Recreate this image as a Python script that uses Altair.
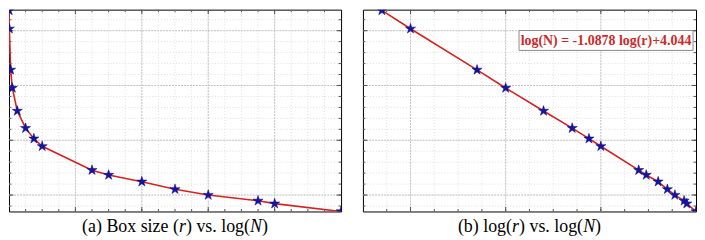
import altair as alt
import numpy as np
import pandas as pd

# ---- data ----
r_vals = [0.005, 0.01, 0.05, 0.1, 0.25, 0.5, 0.75, 1, 2.5, 3, 4, 5, 6, 7.5, 8, 10]
logN_vals = [6.37, 6.035, 5.285, 4.954, 4.535, 4.221, 4.029, 3.890,
             3.454, 3.366, 3.244, 3.105, 3.0, 2.895, 2.843, 2.70]
fit_label = "log(N) = -1.0878 log(r)+4.044"
caption_a = [("(a) Box size (", False), ("r", True), (") vs. log(", False), ("N", True), (")", False)]
caption_b = [("(b) log(", False), ("r", True), (") vs. log(", False), ("N", True), (")", False)]

df = pd.DataFrame({"r": r_vals, "logN": logN_vals})
df["logr"] = np.log10(df["r"])

# ---- layout ----
W1, W2, H = 334, 335, 203
CAP_SIZE = 18
STAR = ("M0,-1 L0.2245,-0.309 L0.951,-0.309 L0.3633,0.118 L0.588,0.809 "
        "L0,0.382 L-0.588,0.809 L-0.3633,0.118 L-0.951,-0.309 L-0.2245,-0.309 Z")

# Times-compatible advance widths (per 1000 em) for caption placement
TW = {"(": 333, ")": 333, "a": 444, "b": 500, " ": 250, "B": 667, "o": 500, "x": 500,
      "s": 389, "i": 278, "z": 444, "e": 444, "v": 500, ".": 250, "l": 278, "g": 500,
      "r": 389, "N": 667}

ys = alt.Scale(domain=[2.70, 6.384], nice=False, zero=False)
xa = alt.Scale(domain=[0, 10], nice=False, zero=False)
xb = alt.Scale(domain=[-2.5, 1.0], nice=False, zero=False)

y_minor = np.round(np.arange(2.8, 6.39, 0.2), 3)
y_major = [3, 4, 5, 6]


def frame_layers(xscale, x_minor, x_major, W):
    L = []
    vmin = pd.DataFrame({"v": x_minor})
    vmaj = pd.DataFrame({"v": x_major})
    hmin = pd.DataFrame({"v": y_minor})
    hmaj = pd.DataFrame({"v": y_major})
    X = lambda: alt.X("v:Q", scale=xscale, axis=None)
    Y = lambda: alt.Y("v:Q", scale=ys, axis=None)
    L.append(alt.Chart(vmin).mark_rule(color="#dedede", strokeDash=[1, 2], strokeWidth=1).encode(x=X()))
    L.append(alt.Chart(hmin).mark_rule(color="#dedede", strokeDash=[1, 2], strokeWidth=1).encode(y=Y()))
    L.append(alt.Chart(vmaj).mark_rule(color="#c4c4c4", strokeDash=[2, 1], strokeWidth=1).encode(x=X()))
    L.append(alt.Chart(hmaj).mark_rule(color="#c4c4c4", strokeDash=[2, 1], strokeWidth=1).encode(y=Y()))
    tick_col = "#555555"
    for data, ln in ((vmin, 2.5), (vmaj, 4.5)):
        L.append(alt.Chart(data).mark_rule(color=tick_col, strokeWidth=1).encode(
            x=X(), y=alt.value(H), y2=alt.value(H - ln)))
        L.append(alt.Chart(data).mark_rule(color=tick_col, strokeWidth=1).encode(
            x=X(), y=alt.value(0), y2=alt.value(ln)))
    for data, ln in ((hmin, 2.5), (hmaj, 4.5)):
        L.append(alt.Chart(data).mark_rule(color=tick_col, strokeWidth=1).encode(
            y=Y(), x=alt.value(0), x2=alt.value(ln)))
        L.append(alt.Chart(data).mark_rule(color=tick_col, strokeWidth=1).encode(
            y=Y(), x=alt.value(W), x2=alt.value(W - ln)))
    return L


def data_layers(xfield, xscale):
    line = alt.Chart(df).mark_line(color="#d42222", strokeWidth=1.6, clip=True).encode(
        x=alt.X(f"{xfield}:Q", scale=xscale, axis=None),
        y=alt.Y("logN:Q", scale=ys, axis=None),
    )
    pts = alt.Chart(df).mark_point(shape=STAR, size=115, filled=True, fill="#1414a8",
                                   stroke="#0a0a70", strokeWidth=0.5, opacity=1,
                                   clip=True).encode(
        x=alt.X(f"{xfield}:Q", scale=xscale, axis=None),
        y=alt.Y("logN:Q", scale=ys, axis=None),
    )
    return [line, pts]


def caption_layers(parts, W):
    widths = [sum(TW.get(c, 500) for c in t) * CAP_SIZE / 1000 for t, _ in parts]
    x = W / 2 - sum(widths) / 2
    L = []
    one = pd.DataFrame({"k": [0]})
    for (t, it), w in zip(parts, widths):
        kw = dict(align="left", baseline="middle", font="Liberation Serif",
                  fontSize=CAP_SIZE, color="black", text=t)
        if it:
            kw["fontStyle"] = "italic"
        L.append(alt.Chart(one).mark_text(**kw).encode(x=alt.value(x), y=alt.value(H + 16)))
        x += w
    return L


left = alt.layer(
    *frame_layers(xa, np.round(np.arange(0.5, 10, 0.5), 3), [2, 4, 6, 8], W1),
    *data_layers("r", xa),
    *caption_layers(caption_a, W1),
).properties(width=W1, height=H)

one = pd.DataFrame({"k": [0]})
box = alt.Chart(one).mark_rect(fill="white", stroke="#8a8a8a", strokeWidth=1).encode(
    x=alt.value(157), x2=alt.value(332), y=alt.value(21), y2=alt.value(41))
box_text = alt.Chart(one).mark_text(text=fit_label, font="Liberation Serif", fontWeight="bold",
                                    fontSize=14, color="#cc2a2a", align="center",
                                    baseline="middle").encode(
    x=alt.value(244.5), y=alt.value(31.5))

right = alt.layer(
    *frame_layers(xb, np.round(np.arange(-2.25, 1.0, 0.25), 3), [-2, -1, 0], W2),
    *data_layers("logr", xb),
    box, box_text,
    *caption_layers(caption_b, W2),
).properties(width=W2, height=H)

chart = alt.hconcat(left, right, spacing=20).properties(
    padding={"left": 0, "top": 0, "right": 0, "bottom": 0}
).configure_view(stroke="black", strokeWidth=1)

chart.save("out.html", embed_options={"renderer": "svg", "actions": False})
